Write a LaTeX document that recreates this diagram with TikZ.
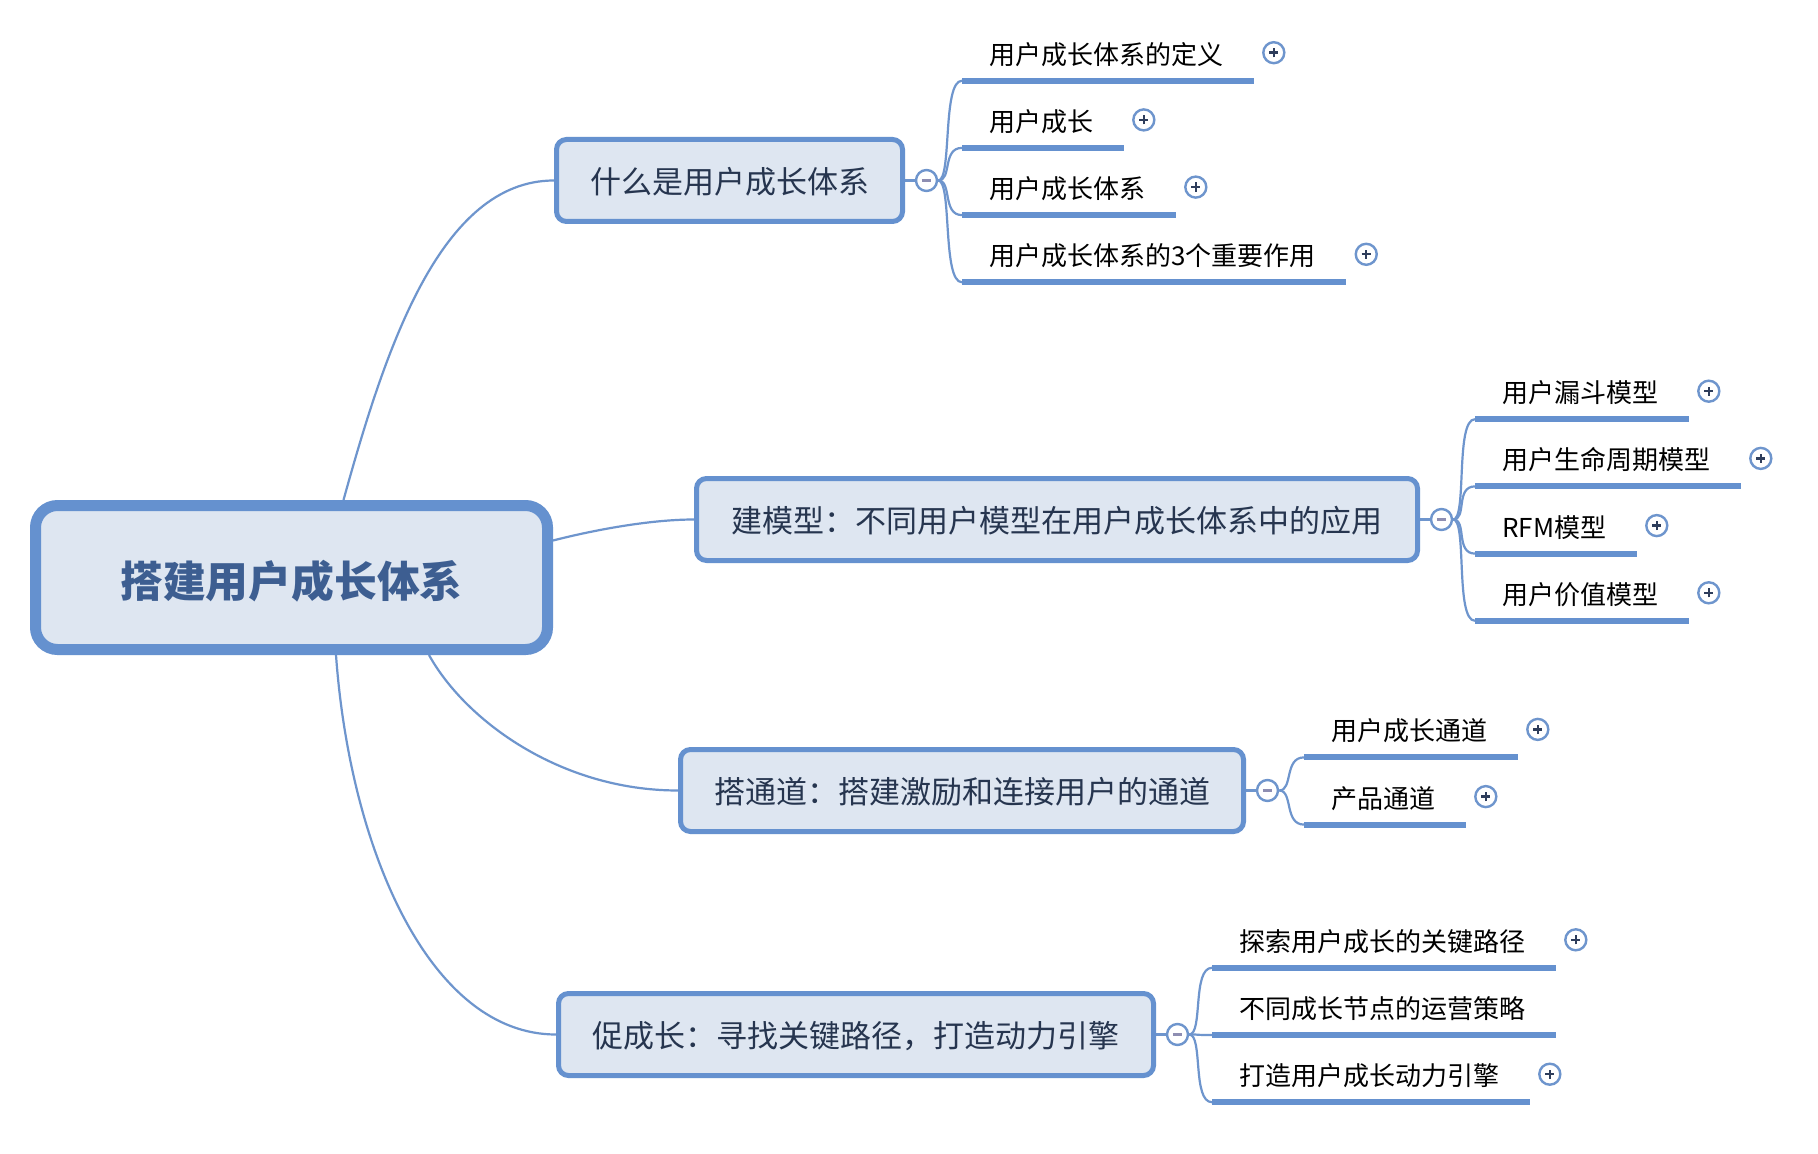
\documentclass[tikz,border=0pt]{standalone}
\usepackage{fontspec}
\setmainfont{Noto Sans CJK SC}
\usetikzlibrary{backgrounds}
\definecolor{boxfill}{HTML}{DEE6F1}
\definecolor{boxline}{HTML}{6591CF}
\definecolor{conncol}{HTML}{6E95CD}
\definecolor{roottext}{HTML}{3D5E91}
\definecolor{branchtext}{HTML}{26354F}
\definecolor{minuscol}{HTML}{8E8EB2}
\definecolor{pluscol}{HTML}{2E3D5B}
\begin{document}
\begin{tikzpicture}[x=0.5pt,y=-0.5pt,
  rootbox/.style={draw=boxline, line width=5.5pt, fill=boxfill, rounded corners=11pt,
    minimum width=256pt, minimum height=72pt, inner sep=0pt,
    font=\fontsize{21.4}{24}\selectfont\bfseries, text=roottext, text height=21.7pt, text depth=2.1pt},
  branchbox/.style={draw=boxline, line width=2.5pt, fill=boxfill, rounded corners=5pt,
    minimum height=41pt, inner sep=0pt,
    font=\fontsize{15.5}{18}\selectfont, text=branchtext, text height=14.7pt, text depth=1.55pt},
  leaf/.style={anchor=west, inner xsep=13.5pt, inner ysep=0pt,
    font=\fontsize{13}{15}\selectfont, text=black, text height=12.7pt, text depth=1.3pt},
  uline/.style={draw=boxline, line width=3pt},
  conn/.style={draw=conncol, line width=1.1pt},
  minusbtn/.style={circle, draw=conncol, line width=1.2pt, fill=white, minimum size=10.5pt, inner sep=0pt,
    path picture={\draw[minuscol, line width=1.2pt]
      ([xshift=-2.3pt]path picture bounding box.center) -- ([xshift=2.3pt]path picture bounding box.center);}},
  plusbtn/.style={circle, draw=conncol, line width=1.2pt, fill=white, minimum size=10.5pt, inner sep=0pt,
    path picture={\draw[pluscol, line width=1.2pt]
      ([xshift=-2.3pt]path picture bounding box.center) -- ([xshift=2.3pt]path picture bounding box.center)
      ([yshift=-2.3pt]path picture bounding box.center) -- ([yshift=2.3pt]path picture bounding box.center);}}
]
\useasboundingbox (0,0) rectangle (1818,1154);

% root and branches
\node[rootbox] (root) at (291.5,577.5) {搭建用户成长体系};
\node[branchbox, minimum width=173pt] (b1) at (729.5,180.5) {什么是用户成长体系};
\node[branchbox, minimum width=360.5pt] (b2) at (1057,519.5) {建模型：不同用户模型在用户成长体系中的应用};
\node[branchbox, minimum width=281.5pt] (b3) at (962,790.5) {搭通道：搭建激励和连接用户的通道};
\node[branchbox, minimum width=297.5pt] (b4) at (856,1034.5) {促成长：寻找关键路径，打造动力引擎};

\node[minusbtn] (m1) at ([xshift=10.75pt]b1.east) {};
\node[minusbtn] (m2) at ([xshift=10.75pt]b2.east) {};
\node[minusbtn] (m3) at ([xshift=10.75pt]b3.east) {};
\node[minusbtn] (m4) at ([xshift=10.75pt]b4.east) {};

% leaves of branch 1
\node[leaf] (l11) at (962,52.7) {用户成长体系的定义};
\node[leaf] (l12) at (962,119.9) {用户成长};
\node[leaf] (l13) at (962,187.1) {用户成长体系};
\node[leaf] (l14) at (962,254.3) {用户成长体系的3个重要作用};
% leaves of branch 2
\node[leaf] (l21) at (1475,391.2) {用户漏斗模型};
\node[leaf] (l22) at (1475,458.4) {用户生命周期模型};
\node[leaf] (l23) at (1475,525.6) {RFM模型};
\node[leaf] (l24) at (1475,592.8) {用户价值模型};
% leaves of branch 3
\node[leaf] (l31) at (1304,729.4) {用户成长通道};
\node[leaf] (l32) at (1304,796.6) {产品通道};
% leaves of branch 4
\node[leaf] (l41) at (1212,939.8) {探索用户成长的关键路径};
\node[leaf] (l42) at (1212,1007) {不同成长节点的运营策略};
\node[leaf] (l43) at (1212,1074.2) {打造用户成长动力引擎};

% underlines
\foreach \l in {l11,l12,l13,l14,l21,l22,l23,l24,l31,l32,l41,l42,l43}
  \draw[uline] ([yshift=-14pt]\l.west) -- ([xshift=1.5pt,yshift=-14pt]\l.east);

% expand buttons
\foreach \l in {l11,l12,l13,l14,l21,l22,l23,l24,l31,l32,l41,l43}
  \node[plusbtn] (p\l) at ([xshift=11.5pt]\l.east) {};

\begin{scope}[on background layer]
  \fill[white] (0,0) rectangle (1818,1154);
  % root to branches
  \draw[conn] ([xshift=26pt]root.north) .. controls (385,350) and (440,180.5) .. (b1.west);
  \draw[conn] ([yshift=18.5pt]root.east) .. controls (594,530) and (650,519.5) .. (b2.west);
  \draw[conn] ([xshift=68.75pt]root.south) .. controls (465,720) and (560,790.5) .. (b3.west);
  \draw[conn] ([xshift=22.25pt]root.south) .. controls (350,850) and (430,1034.5) .. (b4.west);
  % branch to buttons
  \draw[conn] (b1.east) -- (m1.west);
  \draw[conn] (b2.east) -- (m2.west);
  \draw[conn] (b3.east) -- (m3.west);
  \draw[conn] (b4.east) -- (m4.west);
  % buttons to leaves
  \foreach \l in {l11,l12,l13,l14}
    \draw[conn] (m1.east) .. controls +(14,0) and +(-20,0) .. ([yshift=-14pt]\l.west);
  \foreach \l in {l21,l22,l23,l24}
    \draw[conn] (m2.east) .. controls +(14,0) and +(-20,0) .. ([yshift=-14pt]\l.west);
  \foreach \l in {l31,l32}
    \draw[conn] (m3.east) .. controls +(14,0) and +(-20,0) .. ([yshift=-14pt]\l.west);
  \foreach \l in {l41,l42,l43}
    \draw[conn] (m4.east) .. controls +(14,0) and +(-20,0) .. ([yshift=-14pt]\l.west);
\end{scope}
\end{tikzpicture}
\end{document}
